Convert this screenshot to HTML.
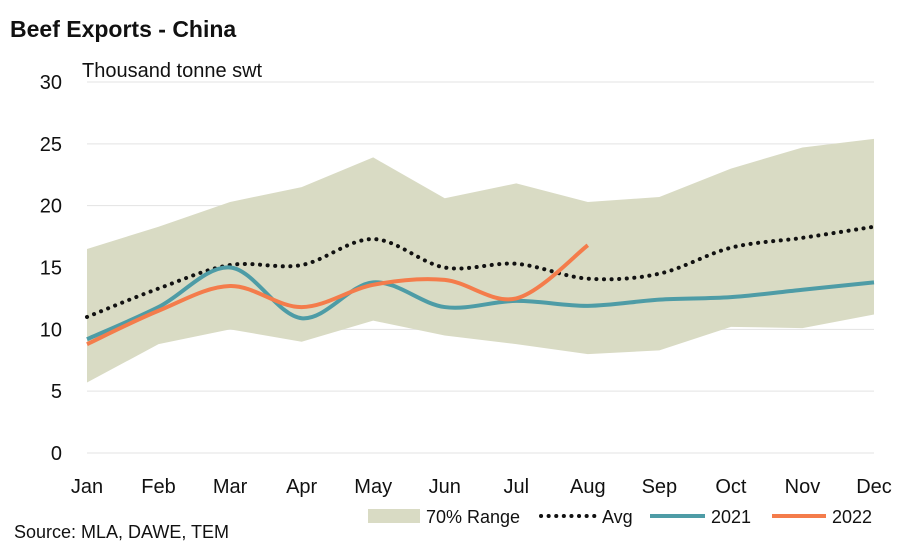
<!DOCTYPE html>
<html><head><meta charset="utf-8"><style>
body{margin:0;background:#fff;}
svg{font-family:"Liberation Sans",Arial,sans-serif;}
</style></head><body>
<svg id="c" width="910" height="550" viewBox="0 0 910 550">
<text x="10" y="37" font-size="23" font-weight="bold" fill="#111">Beef Exports - China</text>
<text x="82" y="77" font-size="20" fill="#111">Thousand tonne swt</text>
<text x="14" y="538" font-size="18" fill="#111">Source: MLA, DAWE, TEM</text>
<g id="grid"></g><g id="marks"></g><g id="axes"></g>
<g>
<rect x="368" y="509" width="52" height="14" fill="#d9dbc4"/>
<text x="426" y="523" font-size="18" fill="#111">70% Range</text>
<line x1="541" y1="516" x2="595" y2="516" stroke="#111" stroke-width="4" stroke-dasharray="0.1 7.5" stroke-linecap="round"/>
<text x="602" y="523" font-size="18" fill="#111">Avg</text>
<line x1="650" y1="516" x2="705" y2="516" stroke="#4e9ca6" stroke-width="4"/>
<text x="711" y="523" font-size="18" fill="#111">2021</text>
<line x1="772" y1="516" x2="826" y2="516" stroke="#f47c4b" stroke-width="4"/>
<text x="832" y="523" font-size="18" fill="#111">2022</text>
</g>
</svg>
<script>
const months=["Jan","Feb","Mar","Apr","May","Jun","Jul","Aug","Sep","Oct","Nov","Dec"];
const yTicks=[0,5,10,15,20,25,30];
const rangeHigh=[16.5,18.3,20.3,21.5,23.9,20.6,21.8,20.3,20.7,23,24.7,25.4];
const rangeLow=[5.7,8.8,10,9,10.7,9.5,8.8,8,8.3,10.2,10.1,11.2];
const avg=[11,13.3,15.2,15.2,17.3,15,15.3,14.1,14.5,16.6,17.4,18.3];
const s2021=[9.2,11.8,15,10.9,13.8,11.8,12.3,11.9,12.4,12.6,13.2,13.8];
const s2022=[8.8,11.5,13.5,11.8,13.6,14,12.5,16.8];
const NS="http://www.w3.org/2000/svg";
const x=i=>87+i*(874-87)/11;
const y=v=>453-v*(453-82)/30;
function mk(t,a,p){const e=document.createElementNS(NS,t);for(const k in a)e.setAttribute(k,a[k]);document.getElementById(p).appendChild(e);return e;}
yTicks.forEach(t=>{
 const l=mk("line",{x1:87,x2:874,y1:y(t),y2:y(t),stroke:"#e3e3e3","stroke-width":1},"grid");
 
 
 const tx=mk("text",{x:62,y:y(t)+7,"font-size":20,"text-anchor":"end",fill:"#111"},"axes");tx.textContent=t;
 
 
});
months.forEach((m,i)=>{
 const tx=mk("text",{x:x(i),y:493,"font-size":20,"text-anchor":"middle",fill:"#111"},"axes");tx.textContent=m;
 
 
});
let d="M"+rangeHigh.map((v,i)=>x(i)+","+y(v)).join("L");
for(let i=rangeLow.length-1;i>=0;i--)d+="L"+x(i)+","+y(rangeLow[i]);
const band=mk("path",{d:d+"Z",fill:"#d9dbc4"},"marks");


function smooth(arr){
 const p=arr.map((v,i)=>[x(i),y(v)]);let s="M"+p[0];
 for(let i=0;i<p.length-1;i++){
  const p0=p[i-1]||p[i],p1=p[i],p2=p[i+1],p3=p[i+2]||p2;
  const c1=[p1[0]+(p2[0]-p0[0])/6,p1[1]+(p2[1]-p0[1])/6],c2=[p2[0]-(p3[0]-p1[0])/6,p2[1]-(p3[1]-p1[1])/6];
  s+="C"+c1+" "+c2+" "+p2;
 }return s;}
const a=mk("path",{d:smooth(avg),fill:"none",stroke:"#111","stroke-width":4,"stroke-dasharray":"0.1 7.5","stroke-linecap":"round"},"marks");


const l1=mk("path",{d:smooth(s2021),fill:"none",stroke:"#4e9ca6","stroke-width":4},"marks");


const l2=mk("path",{d:smooth(s2022),fill:"none",stroke:"#f47c4b","stroke-width":4},"marks");


</script>
</body></html>
